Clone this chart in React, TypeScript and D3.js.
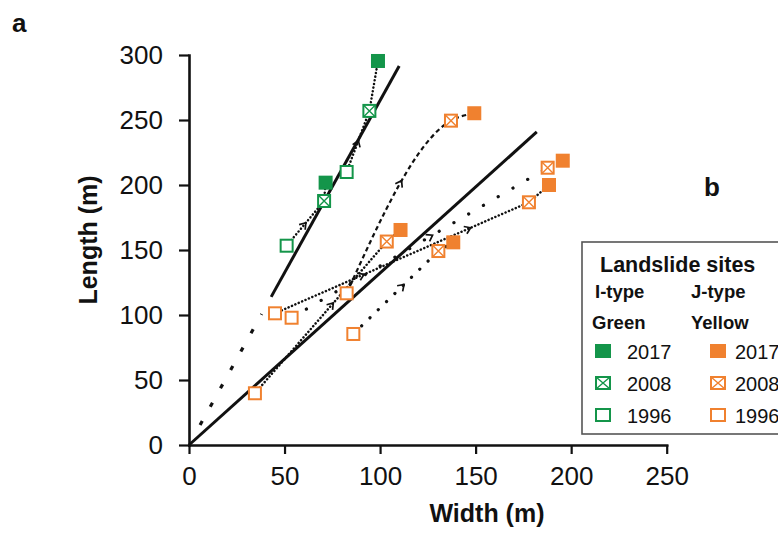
import React, { useEffect, useRef } from "react";
import * as d3 from "d3";

// ---- data ----
const xTicks = [0, 50, 100, 150, 200, 250];
const yTicks = [0, 50, 100, 150, 200, 250, 300];
const yearLabels = ["1996", "2008", "2017"];
const legendYears = ["2017", "2008", "1996"];

// I-type (green) sites, values per survey year [1996, 2008, 2017]
const greenWidth = [
  [82.5, 94.4, 98.9],
  [51.1, 70.7, 71.5],
];
const greenLength = [
  [210, 257, 295.4],
  [153.3, 187.7, 201.8],
];

// J-type (yellow) sites, values per survey year [1996, 2008, 2017]
const yellowWidth = [
  [34.5, 103.5, 110.7],
  [45, 177.9, 188.4],
  [53.7, 187.7, 195.6],
  [86, 130.5, 138.3],
  [82.5, 137.1, 149.3],
];
const yellowLength = [
  [39.8, 156.5, 165.4],
  [101.3, 186.7, 200],
  [97.9, 213.3, 218.7],
  [85.4, 149.2, 155.9],
  [116.7, 249.5, 255.2],
];

// fitted trend lines L = slope * W
const fitSlopes = [2.65, 1.323];
const fitWidthRanges = [
  [43, 110],
  [0, 182],
];
const greenExtensionRange = [5.8, 38];

// ---- styles (not data) ----
const GREEN = "#14954a";
const ORANGE = "#f0812f";
const FONT = "'Liberation Sans', Arial, Helvetica, sans-serif";
const greenStyles = ["dense", "dense"];
const yellowStyles = ["dense", "dense", "sparseWide", "sparse", "dashed"];
const greenArrowFracs = [[0.47], [0.46]];
const yellowArrowFracs = [[0.58], [0.34, 0.76], [0.54], [0.57], [0.6]];

const connectorStyles: any = {
  dense: { dash: "0.1 3.6", width: 2.5, cap: "round" },
  sparse: { dash: "0.1 11.5", width: 3.2, cap: "round" },
  sparseWide: { dash: "0.1 17", width: 3.2, cap: "round" },
  dashed: { dash: "4.5 3.2", width: 2.2, cap: "butt", curve: true },
};

export default function App() {
  const ref = useRef<SVGSVGElement>(null);

  useEffect(() => {
    const svg = d3.select(ref.current);
    svg.selectAll("*").remove();

    const x = d3.scaleLinear().domain([0, 250]).range([189, 666.7]);
    const y = d3.scaleLinear().domain([0, 300]).range([445, 55]);

    // panel labels
    svg.append("text").attr("x", 12).attr("y", 32).text("a")
      .attr("font-family", FONT).attr("font-weight", "bold").attr("font-size", 26).attr("fill", "#111");
    svg.append("text").attr("x", 704).attr("y", 196).text("b")
      .attr("font-family", FONT).attr("font-weight", "bold").attr("font-size", 26).attr("fill", "#111");

    // axes
    const gx = svg.append("g").attr("transform", `translate(0,${y(0)})`)
      .call(d3.axisBottom(x).tickValues(xTicks).tickSize(9).tickSizeOuter(0).tickPadding(12.5).tickFormat(d3.format("d")));
    const gy = svg.append("g").attr("transform", `translate(${x(0)},0)`)
      .call(d3.axisLeft(y).tickValues(yTicks).tickSize(10).tickSizeOuter(0).tickPadding(16).tickFormat(d3.format("d")));
    [gx, gy].forEach((g) => {
      g.attr("font-family", FONT).attr("font-size", 26);
      g.select(".domain").attr("stroke", "#111").attr("stroke-width", 2.6).attr("stroke-linecap", "square");
      g.selectAll(".tick line").attr("stroke", "#111").attr("stroke-width", 2.2);
      g.selectAll(".tick text").attr("fill", "#111");
    });

    svg.append("text").attr("x", 487).attr("y", 522).attr("text-anchor", "middle")
      .attr("font-family", FONT).attr("font-weight", "bold").attr("font-size", 25).attr("fill", "#111")
      .text("Width (m)");
    svg.append("text").attr("transform", `translate(97,240) rotate(-90)`).attr("text-anchor", "middle")
      .attr("font-family", FONT).attr("font-weight", "bold").attr("font-size", 25).attr("fill", "#111")
      .text("Length (m)");

    // fit lines
    fitSlopes.forEach((s, i) => {
      const [a, b] = fitWidthRanges[i];
      svg.append("line").attr("x1", x(a)).attr("y1", y(s * a)).attr("x2", x(b)).attr("y2", y(s * b))
        .attr("stroke", "#111").attr("stroke-width", 3);
    });
    const [ea, eb] = greenExtensionRange;
    svg.append("line").attr("x1", x(ea)).attr("y1", y(fitSlopes[0] * ea)).attr("x2", x(eb)).attr("y2", y(fitSlopes[0] * eb))
      .attr("stroke", "#111").attr("stroke-width", 3.2).attr("stroke-dasharray", "4.5 16.5");

    const sites: any[] = [];
    greenWidth.forEach((w, i) => sites.push({ w, l: greenLength[i], color: GREEN, style: greenStyles[i], arrows: greenArrowFracs[i] }));
    yellowWidth.forEach((w, i) => sites.push({ w, l: yellowLength[i], color: ORANGE, style: yellowStyles[i], arrows: yellowArrowFracs[i] }));

    const connG = svg.append("g");
    const arrowG = svg.append("g");
    const markG = svg.append("g");

    function drawMarker(g: any, cx: number, cy: number, year: string, color: string, w: number, h: number) {
      if (year === "2017") {
        g.append("rect").attr("x", cx - w / 2).attr("y", cy - h / 2).attr("width", w).attr("height", h).attr("fill", color);
      } else {
        g.append("rect").attr("x", cx - w / 2 + 1).attr("y", cy - h / 2 + 1).attr("width", w - 2).attr("height", h - 2)
          .attr("fill", "#fff").attr("stroke", color).attr("stroke-width", 2);
        if (year === "2008") {
          g.append("path").attr("d", `M${cx - w / 2 + 1},${cy - h / 2 + 1}L${cx + w / 2 - 1},${cy + h / 2 - 1}M${cx + w / 2 - 1},${cy - h / 2 + 1}L${cx - w / 2 + 1},${cy + h / 2 - 1}`)
            .attr("stroke", color).attr("stroke-width", 1.4);
        }
      }
    }

    sites.forEach((s) => {
      const pts: [number, number][] = s.w.map((w: number, k: number) => [x(w), y(s.l[k])]);
      const st = connectorStyles[s.style];
      const gen = d3.line<[number, number]>().x((d) => d[0]).y((d) => d[1]);
      if (st.curve) gen.curve(d3.curveMonotoneX);
      const path = connG.append("path").attr("d", gen(pts)).attr("fill", "none")
        .attr("stroke", "#111").attr("stroke-width", st.width).attr("stroke-dasharray", st.dash)
        .attr("stroke-linecap", st.cap);
      const node = path.node() as SVGPathElement;
      const total = node.getTotalLength();
      let best = 0, bd = Infinity;
      for (let l = 0; l <= total; l += 0.5) {
        const p = node.getPointAtLength(l);
        const d = Math.hypot(p.x - pts[1][0], p.y - pts[1][1]);
        if (d < bd) { bd = d; best = l; }
      }
      s.arrows.forEach((f: number) => {
        const L = f * best;
        const p = node.getPointAtLength(L);
        const p0 = node.getPointAtLength(Math.max(0, L - 2));
        const p1 = node.getPointAtLength(L + 2);
        const ang = Math.atan2(p1.y - p0.y, p1.x - p0.x);
        const tip = [p.x + 3 * Math.cos(ang), p.y + 3 * Math.sin(ang)];
        const arm = (da: number) => [tip[0] - 7 * Math.cos(ang + da), tip[1] - 7 * Math.sin(ang + da)];
        const a1 = arm(0.6), a2 = arm(-0.6);
        arrowG.append("path").attr("d", `M${a1[0]},${a1[1]}L${tip[0]},${tip[1]}L${a2[0]},${a2[1]}`)
          .attr("fill", "none").attr("stroke", "#111").attr("stroke-width", 1.7);
      });
      pts.forEach((p, k) => drawMarker(markG, p[0], p[1], yearLabels[k], s.color, 14, 14));
    });

    // legend
    const lg = svg.append("g");
    lg.append("rect").attr("x", 582).attr("y", 242).attr("width", 230).attr("height", 192)
      .attr("fill", "#fff").attr("stroke", "#555").attr("stroke-width", 1.6);
    const txt = (t: string, tx: number, ty: number, size: number, bold: boolean) =>
      lg.append("text").attr("x", tx).attr("y", ty).text(t).attr("font-family", FONT)
        .attr("font-size", size).attr("font-weight", bold ? "bold" : "normal").attr("fill", "#111");
    txt("Landslide sites", 600, 272, 21.5, true);
    txt("I-type", 595, 298, 18.5, true);
    txt("J-type", 691, 298, 18.5, true);
    txt("Green", 592, 329, 18.5, true);
    txt("Yellow", 691, 329, 18.5, true);
    const rowY = [351, 383, 415];
    legendYears.forEach((yr, i) => {
      drawMarker(lg, 603, rowY[i], yr, GREEN, 16, 14);
      drawMarker(lg, 718, rowY[i], yr, ORANGE, 16, 14);
      txt(yr, 627, rowY[i] + 7.5, 20, false);
      txt(yr, 735, rowY[i] + 7.5, 20, false);
    });
  }, []);

  return (
    <svg ref={ref} width={778} height={534}
      style={{ position: "absolute", left: 0, top: 0, background: "#fff" }} />
  );
}
